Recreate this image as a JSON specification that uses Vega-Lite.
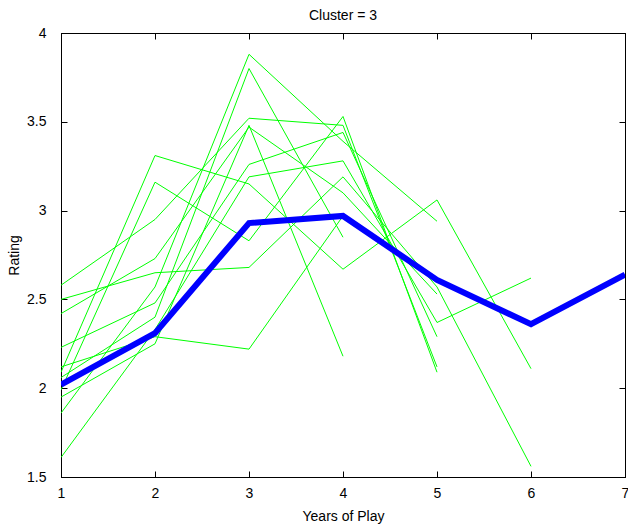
{
  "$schema": "https://vega.github.io/schema/vega-lite/v6.json",
  "width": 564,
  "height": 444,
  "autosize": "none",
  "padding": {"left": 61, "top": 33, "right": 3, "bottom": 52},
  "background": "white",
  "title": {"text": "Cluster = 3", "font": "Liberation Sans", "fontSize": 14, "fontWeight": "normal", "color": "#000", "offset": 3},
  "config": {
    "view": {"stroke": "#000", "strokeWidth": 1},
    "axis": {"labelFont": "Liberation Sans", "titleFont": "Liberation Sans", "labelFontSize": 14, "titleFontSize": 14, "titleFontWeight": "normal", "labelColor": "#000", "titleColor": "#000", "domainColor": "#000", "tickColor": "#000", "grid": false}
  },
  "data": {"values": [
    {"s": "L1", "x": 1, "y": 2.58}, {"s": "L1", "x": 2, "y": 2.95}, {"s": "L1", "x": 3, "y": 3.52}, {"s": "L1", "x": 4, "y": 3.48}, {"s": "L1", "x": 5, "y": 2.12},
    {"s": "L2", "x": 1, "y": 2.50}, {"s": "L2", "x": 2, "y": 2.65}, {"s": "L2", "x": 3, "y": 2.68}, {"s": "L2", "x": 4, "y": 3.19}, {"s": "L2", "x": 5, "y": 2.57}, {"s": "L2", "x": 6, "y": 1.56},
    {"s": "L3", "x": 1, "y": 2.42}, {"s": "L3", "x": 2, "y": 2.73}, {"s": "L3", "x": 3, "y": 3.47}, {"s": "L3", "x": 4, "y": 3.10}, {"s": "L3", "x": 5, "y": 2.53},
    {"s": "L4", "x": 1, "y": 2.23}, {"s": "L4", "x": 2, "y": 2.48}, {"s": "L4", "x": 3, "y": 3.26}, {"s": "L4", "x": 4, "y": 3.44}, {"s": "L4", "x": 5, "y": 2.29},
    {"s": "L5", "x": 1, "y": 2.12}, {"s": "L5", "x": 2, "y": 2.29}, {"s": "L5", "x": 3, "y": 2.22}, {"s": "L5", "x": 4, "y": 2.97}, {"s": "L5", "x": 5, "y": 2.60},
    {"s": "L6", "x": 1, "y": 2.09}, {"s": "L6", "x": 2, "y": 3.31}, {"s": "L6", "x": 3, "y": 3.15}, {"s": "L6", "x": 4, "y": 2.67}, {"s": "L6", "x": 5, "y": 3.06}, {"s": "L6", "x": 6, "y": 2.11},
    {"s": "L7", "x": 1, "y": 2.06}, {"s": "L7", "x": 2, "y": 2.40}, {"s": "L7", "x": 3, "y": 3.80}, {"s": "L7", "x": 4, "y": 2.85},
    {"s": "L8", "x": 1, "y": 1.99}, {"s": "L8", "x": 2, "y": 3.16}, {"s": "L8", "x": 3, "y": 2.83}, {"s": "L8", "x": 4, "y": 3.53}, {"s": "L8", "x": 5, "y": 2.09},
    {"s": "L9", "x": 1, "y": 1.95}, {"s": "L9", "x": 2, "y": 2.25}, {"s": "L9", "x": 3, "y": 3.48}, {"s": "L9", "x": 4, "y": 2.18},
    {"s": "L10", "x": 1, "y": 1.86}, {"s": "L10", "x": 2, "y": 2.57}, {"s": "L10", "x": 3, "y": 3.88}, {"s": "L10", "x": 4, "y": 3.39}, {"s": "L10", "x": 5, "y": 2.94},
    {"s": "L11", "x": 1, "y": 1.61}, {"s": "L11", "x": 2, "y": 2.33}, {"s": "L11", "x": 3, "y": 3.19}, {"s": "L11", "x": 4, "y": 3.28}, {"s": "L11", "x": 5, "y": 2.37}, {"s": "L11", "x": 6, "y": 2.62},
    {"s": "mean", "x": 1, "y": 2.02}, {"s": "mean", "x": 2, "y": 2.31}, {"s": "mean", "x": 3, "y": 2.93}, {"s": "mean", "x": 4, "y": 2.97}, {"s": "mean", "x": 5, "y": 2.61}, {"s": "mean", "x": 6, "y": 2.36}, {"s": "mean", "x": 7, "y": 2.64}
  ]},
  "layer": [
    {
      "transform": [{"filter": "datum.s !== 'mean'"}],
      "mark": {"type": "line", "color": "#00ff00", "strokeWidth": 1, "clip": true},
      "encoding": {
        "x": {"field": "x", "type": "quantitative", "scale": {"domain": [1, 7], "nice": false, "zero": false},
              "axis": {"orient": "bottom", "values": [1, 2, 3, 4, 5, 6, 7], "format": "d", "tickSize": -6, "labelPadding": 15, "title": "Years of Play", "titlePadding": 9, "labelFlush": false}},
        "y": {"field": "y", "type": "quantitative", "scale": {"domain": [1.5, 4], "nice": false, "zero": false},
              "axis": {"orient": "left", "values": [1.5, 2, 2.5, 3, 3.5, 4], "format": ".1~f", "tickSize": -6, "labelPadding": 21, "title": "Rating", "titlePadding": 5, "labelFlush": false}},
        "detail": {"field": "s", "type": "nominal"}
      }
    },
    {
      "transform": [{"filter": "datum.s === 'mean'"}],
      "mark": {"type": "line", "color": "#0000ff", "strokeWidth": 6, "clip": true},
      "encoding": {
        "x": {"field": "x", "type": "quantitative", "axis": null},
        "y": {"field": "y", "type": "quantitative", "axis": null}
      }
    },
    {
      "transform": [{"filter": "datum.s === 'mean'"}],
      "mark": {"type": "line", "opacity": 0},
      "encoding": {
        "x": {"field": "x", "type": "quantitative", "axis": {"orient": "top", "values": [1, 2, 3, 4, 5, 6, 7], "labels": false, "title": null, "tickSize": -6}},
        "y": {"field": "y", "type": "quantitative", "axis": {"orient": "right", "values": [1.5, 2, 2.5, 3, 3.5, 4], "labels": false, "title": null, "tickSize": -6}}
      }
    }
  ],
  "resolve": {"axis": {"x": "independent", "y": "independent"}}
}
